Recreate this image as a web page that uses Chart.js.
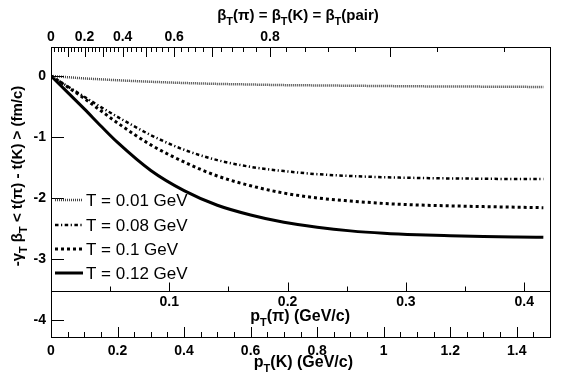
<!DOCTYPE html>
<html>
<head>
<meta charset="utf-8">
<script src="https://cdn.jsdelivr.net/npm/chart.js@4"></script>
<style>
  html, body { margin: 0; padding: 0; background: #fff; }
  #wrap { width: 567px; height: 384px; }
</style>
</head>
<body>
<div id="wrap"><canvas id="c" width="567" height="384"></canvas></div>
<script>
// p_T(K) grid (GeV/c) shared by all curves
const pK = [0, 0.05, 0.1, 0.15, 0.2, 0.3, 0.4, 0.5, 0.6, 0.7, 0.8, 0.9, 1.0, 1.1, 1.2, 1.3, 1.4, 1.48];

// -gamma beta <t(pi) - t(K)> (fm/c)
const t001 = [0, -0.02, -0.04, -0.055, -0.07, -0.095, -0.115, -0.13, -0.14, -0.15, -0.155, -0.16, -0.165, -0.17, -0.172, -0.175, -0.178, -0.18];
const t008 = [0, -0.17, -0.34, -0.51, -0.67, -0.97, -1.21, -1.38, -1.49, -1.56, -1.61, -1.64, -1.66, -1.672, -1.68, -1.685, -1.69, -1.69];
const t010 = [0, -0.18, -0.37, -0.57, -0.77, -1.13, -1.41, -1.64, -1.80, -1.92, -2.0, -2.05, -2.09, -2.115, -2.13, -2.142, -2.152, -2.16];
const t012 = [0, -0.27, -0.54, -0.82, -1.09, -1.55, -1.88, -2.12, -2.28, -2.40, -2.48, -2.54, -2.58, -2.605, -2.62, -2.632, -2.64, -2.645];

const seriesNames = ["T = 0.01 GeV", "T = 0.08 GeV", "T = 0.1 GeV", "T = 0.12 GeV"];

// axes
const xTicks = [0, 0.2, 0.4, 0.6, 0.8, 1, 1.2, 1.4];
const yTicks = [0, -1, -2, -3, -4];
const piTicks = [0.1, 0.2, 0.3, 0.4];
const betaTicks = [0, 0.2, 0.4, 0.6, 0.8];
const xRange = [0, 1.5];
const yRange = [-4.28, 0.475];
const piAxisAt = -3.52;       // y value where the p_T(pi) axis sits
const massK = 0.4937;         // GeV
const piPerK = 0.2812;        // p_T(pi) / p_T(K) at equal velocity

const xTitle = "p_{T}(K) (GeV/c)";
const piTitle = "p_{T}(\u03c0) (GeV/c)";
const topTitle = "\u03b2_{T}(\u03c0) = \u03b2_{T}(K) = \u03b2_{T}(pair)";
const yTitle = "-\u03b3_{T} \u03b2_{T} < t(\u03c0) - t(K) > (fm/c)";

const FONT = "'Liberation Sans', Arial, Helvetica, sans-serif";
const pOfBeta = b => massK * b / Math.sqrt(1 - b * b);

const styles = [
  { borderColor: "#444", borderWidth: 2.5, borderDash: [1, 1] },
  { borderColor: "#000", borderWidth: 2.5, borderDash: [3.5, 2.5, 1.2, 2.5] },
  { borderColor: "#000", borderWidth: 3, borderDash: [3, 3] },
  { borderColor: "#000", borderWidth: 3, borderDash: [] },
];

const fmt = v => String(Math.round(v * 100) / 100);

// text with _{sub} parts
function rich(ctx, str, x, y, size, align) {
  const parts = [];
  str.split(/(_\{[^}]*\})/).forEach(s => {
    if (!s) return;
    if (s.startsWith("_{")) parts.push({ t: s.slice(2, -1), sub: true });
    else parts.push({ t: s, sub: false });
  });
  const font = p => "bold " + (p.sub ? Math.round(size * 0.7) : size) + "px " + FONT;
  let w = 0;
  parts.forEach(p => { ctx.font = font(p); p.w = ctx.measureText(p.t).width; w += p.w; });
  let cx = align === "right" ? x - w : align === "center" ? x - w / 2 : x;
  ctx.textAlign = "left";
  ctx.textBaseline = "alphabetic";
  parts.forEach(p => {
    ctx.font = font(p);
    ctx.fillText(p.t, cx, y + (p.sub ? size * 0.3 : 0));
    cx += p.w;
  });
}

const decor = {
  id: "decor",
  afterDraw(chart) {
    const { ctx, chartArea: a, scales } = chart;
    const x = scales.x, y = scales.y, xpi = scales.xpi;
    ctx.save();
    ctx.strokeStyle = "#000";
    ctx.fillStyle = "#000";
    ctx.lineWidth = 1;
    ctx.setLineDash([]);
    ctx.strokeRect(a.left + 0.5, a.top + 0.5, a.right - a.left, a.bottom - a.top);

    const vtick = (px, y0, len) => {
      const xx = Math.round(px) + 0.5;
      ctx.beginPath(); ctx.moveTo(xx, y0); ctx.lineTo(xx, y0 + len); ctx.stroke();
    };
    // bottom ticks (p_T(K))
    for (let i = 1; i <= 29; i++) {
      const v = i * 0.05;
      vtick(x.getPixelForValue(v), a.bottom, i % 4 === 0 ? -10 : -5);
    }
    // left ticks
    yTicks.forEach(v => {
      const yy = Math.round(y.getPixelForValue(v)) + 0.5;
      ctx.beginPath(); ctx.moveTo(a.left, yy); ctx.lineTo(a.left + 13, yy); ctx.stroke();
    });
    // top ticks (beta)
    for (let i = 1; i <= 47; i++) {
      const b = i * 0.02;
      const px = x.getPixelForValue(pOfBeta(b));
      if (px >= a.right - 1) break;
      vtick(px, a.top, i % 5 === 0 ? 10 : 5);
    }
    // inner p_T(pi) axis
    const ya = Math.round(y.getPixelForValue(piAxisAt)) + 0.5;
    ctx.beginPath(); ctx.moveTo(a.left, ya); ctx.lineTo(a.right, ya); ctx.stroke();
    for (let i = 1; i <= 8; i++) {
      const v = i * 0.05;
      vtick(xpi.getPixelForValue(v), ya, i % 2 === 0 ? -9 : -5);
    }
    ctx.font = "bold 14px " + FONT;
    ctx.textAlign = "center";
    ctx.textBaseline = "middle";
    piTicks.forEach(v => ctx.fillText(fmt(v), xpi.getPixelForValue(v), ya + 11));

    // titles
    rich(ctx, piTitle, 350, 321, 16, "right");
    rich(ctx, xTitle, 353, 367, 16, "right");
    rich(ctx, topTitle, 298, 20, 15, "center");
    ctx.save();
    ctx.translate(22, 176);
    ctx.rotate(-Math.PI / 2);
    rich(ctx, yTitle, 0, 0, 15, "center");
    ctx.restore();

    // legend
    ctx.font = "17px " + FONT;
    ctx.textAlign = "left";
    ctx.textBaseline = "middle";
    const rows = [200, 225, 249, 273];
    chart.data.datasets.forEach((ds, i) => {
      const yy = rows[i];
      ctx.strokeStyle = ds.borderColor;
      ctx.lineWidth = ds.borderWidth;
      ctx.setLineDash(ds.borderDash);
      ctx.beginPath(); ctx.moveTo(55, yy); ctx.lineTo(83, yy); ctx.stroke();
      ctx.setLineDash([]);
      ctx.fillStyle = "#000";
      ctx.fillText(ds.label, 86, yy + 1);
    });
    ctx.restore();
  },
};

const datasets = [t001, t008, t010, t012].map((vals, i) => ({
  label: seriesNames[i],
  data: pK.map((p, j) => ({ x: p, y: vals[j] })),
  pointRadius: 0,
  fill: false,
  cubicInterpolationMode: "monotone",
  ...styles[i],
}));

new Chart(document.getElementById("c"), {
  type: "line",
  data: { datasets },
  options: {
    responsive: false,
    animation: false,
    layout: { padding: { left: 0, right: 17, top: 0, bottom: 0 } },
    plugins: { legend: { display: false }, tooltip: { enabled: false } },
    scales: {
      x: {
        type: "linear", position: "bottom", min: xRange[0], max: xRange[1],
        grid: { display: false, drawTicks: false }, border: { display: false },
        afterBuildTicks: s => { s.ticks = xTicks.map(v => ({ value: v })); },
        afterFit: s => { s.height = 47; },
        ticks: { autoSkip: false, maxRotation: 0, padding: 6, color: "#000",
          font: { family: FONT, size: 14, weight: "bold" }, callback: v => fmt(v) },
      },
      xTop: {
        type: "linear", position: "top", min: xRange[0], max: xRange[1],
        grid: { display: false, drawTicks: false }, border: { display: false },
        afterBuildTicks: s => { s.ticks = betaTicks.map(b => ({ value: pOfBeta(b) })); },
        afterFit: s => { s.height = 47; },
        ticks: { autoSkip: false, maxRotation: 0, padding: 1, color: "#000",
          font: { family: FONT, size: 14, weight: "bold" }, callback: (v, i) => fmt(betaTicks[i]) },
      },
      xpi: {
        type: "linear", display: false, min: xRange[0] * piPerK, max: xRange[1] * piPerK,
      },
      y: {
        type: "linear", position: "left", min: yRange[0], max: yRange[1],
        grid: { display: false, drawTicks: false }, border: { display: false },
        afterBuildTicks: s => { s.ticks = yTicks.map(v => ({ value: v })); },
        afterFit: s => { s.width = 51; },
        ticks: { autoSkip: false, padding: 5, color: "#000",
          font: { family: FONT, size: 14, weight: "bold" }, callback: v => fmt(v) },
      },
    },
  },
  plugins: [decor],
});
</script>
</body>
</html>
